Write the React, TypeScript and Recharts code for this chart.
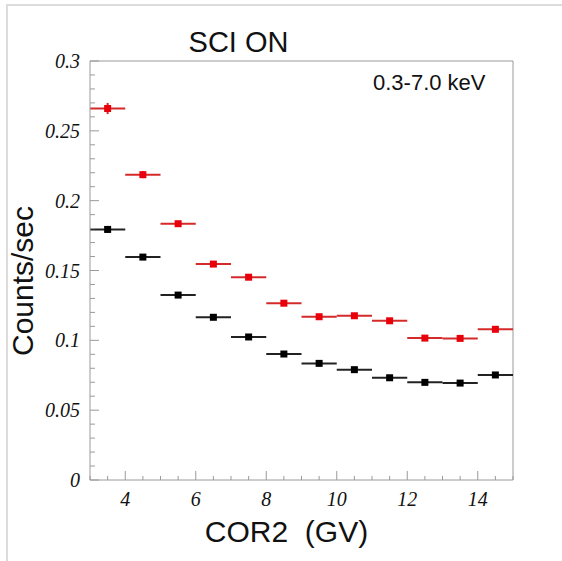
import React from 'react';
import { ComposedChart, Scatter, ErrorBar, XAxis, YAxis, ReferenceLine, Label } from 'recharts';

// COR2 bins (GV) and count rates
const binCenters = [3.5, 4.5, 5.5, 6.5, 7.5, 8.5, 9.5, 10.5, 11.5, 12.5, 13.5, 14.5];
const binHalfWidths = [0.5, 0.5, 0.5, 0.5, 0.5, 0.5, 0.5, 0.5, 0.5, 0.5, 0.5, 0.5];
const redRates = [0.266, 0.2186, 0.1835, 0.1546, 0.1452, 0.1266, 0.1169, 0.1176, 0.114, 0.1016, 0.1014, 0.1079];
const redErrors = [0.004, 0.0025, 0.002, 0.0018, 0.0017, 0.0016, 0.0016, 0.0016, 0.0016, 0.0016, 0.0017, 0.0018];
const blackRates = [0.1794, 0.1596, 0.1324, 0.1165, 0.1024, 0.0902, 0.0835, 0.079, 0.0732, 0.0699, 0.0694, 0.0752];
const blackErrors = [0.0025, 0.002, 0.0017, 0.0016, 0.0015, 0.0014, 0.0014, 0.0014, 0.0014, 0.0014, 0.0014, 0.0015];

const xTicks = [3, 3.5, 4, 4.5, 5, 5.5, 6, 6.5, 7, 7.5, 8, 8.5, 9, 9.5, 10, 10.5, 11, 11.5, 12, 12.5, 13, 13.5, 14, 14.5, 15];
const xLabels = [4, 6, 8, 10, 12, 14];
const yTicks = Array.from({ length: 31 }, (_, i) => i / 100);
const yLabels = [0, 0.05, 0.1, 0.15, 0.2, 0.25, 0.3];

const toRows = (rates: number[], errs: number[]) =>
  binCenters.map((x, i) => ({ x, y: rates[i], xerr: binHalfWidths[i], yerr: errs[i] }));

const redData = toRows(redRates, redErrors);
const blackData = toRows(blackRates, blackErrors);

const AXIS = '#9a9a9a';
const TICK_FONT = { fontFamily: '"Liberation Serif", serif', fontStyle: 'italic', fontSize: 20, fill: '#111' };
const SANS = '"Liberation Sans", Arial, sans-serif';

const YTick = (props: any) => {
  const { x, y, payload } = props;
  const v = payload.value;
  const major = yLabels.some((l) => Math.abs(l - v) < 1e-6);
  return (
    <g>
      <line x1={x} x2={x + (major ? 9 : 5)} y1={y} y2={y} stroke={AXIS} />
      {major && (
        <text x={x - 10} y={y} dy="0.35em" textAnchor="end" {...TICK_FONT}>
          {String(v)}
        </text>
      )}
    </g>
  );
};

const XTick = (props: any) => {
  const { x, y, payload } = props;
  const v = payload.value;
  const major = xLabels.includes(v);
  return (
    <g>
      <line x1={x} x2={x} y1={y} y2={y - (major ? 9 : 4)} stroke={AXIS} />
      {major && (
        <text x={x} y={y + 26} textAnchor="middle" {...TICK_FONT}>
          {String(v)}
        </text>
      )}
    </g>
  );
};

const square = (color: string, size: number) => (props: any) => (
  <rect x={props.cx - size / 2} y={props.cy - size / 2} width={size} height={size} fill={color} />
);

export default function App() {
  return (
    <div style={{ position: 'absolute', left: 0, top: 0, width: 562, height: 561, background: '#fff', overflow: 'hidden' }}>
      <div
        style={{
          position: 'absolute', left: 6, top: 4, width: 560, height: 560,
          borderTop: '2px solid #dcdcdc', borderLeft: '2px solid #dcdcdc',
        }}
      />
      <div style={{ position: 'absolute', left: 0, top: 0 }}>
        <ComposedChart width={562} height={561} margin={{ top: 61, right: 49, bottom: 0, left: 0 }}>
          <XAxis
            dataKey="x"
            type="number"
            domain={[3, 15]}
            ticks={xTicks}
            interval={0}
            height={81}
            tickSize={0}
            tickMargin={0}
            tickLine={false}
            tick={<XTick />}
            axisLine={{ stroke: AXIS }}
            allowDataOverflow
          >
            <Label
              content={(p: any) => {
                const vb = p.viewBox;
                return (
                  <text x={vb.x + vb.width / 2 - 15} y={vb.y + 62} textAnchor="middle"
                    style={{ fontFamily: SANS, fontSize: 30, fill: '#111', whiteSpace: 'pre' }}>
                    {'COR2  (GV)'}
                  </text>
                );
              }}
            />
          </XAxis>
          <YAxis
            dataKey="y"
            type="number"
            domain={[0, 0.3]}
            ticks={yTicks}
            interval={0}
            width={90}
            tickSize={0}
            tickMargin={0}
            tickLine={false}
            tick={<YTick />}
            axisLine={{ stroke: AXIS }}
            allowDataOverflow
          >
            <Label
              content={(p: any) => {
                const vb = p.viewBox;
                const cx = vb.x + 33;
                const cy = vb.y + vb.height / 2 + 10.5;
                return (
                  <text x={cx} y={cy} textAnchor="middle" transform={`rotate(-90, ${cx}, ${cy})`}
                    style={{ fontFamily: SANS, fontSize: 30, fill: '#111' }}>
                    Counts/sec
                  </text>
                );
              }}
            />
          </YAxis>
          <ReferenceLine y={0.3} stroke={AXIS} />
          <ReferenceLine x={15} stroke={AXIS} />
          <Scatter data={blackData} shape={square('#000', 7)} isAnimationActive={false}>
            <ErrorBar dataKey="xerr" direction="x" width={0} stroke="#222" strokeWidth={2} isAnimationActive={false} />
            <ErrorBar dataKey="yerr" direction="y" width={0} stroke="#222" strokeWidth={2} isAnimationActive={false} />
          </Scatter>
          <Scatter data={redData} shape={square('#e8000b', 7)} isAnimationActive={false}>
            <ErrorBar dataKey="xerr" direction="x" width={0} stroke="#d42a2a" strokeWidth={2} isAnimationActive={false} />
            <ErrorBar dataKey="yerr" direction="y" width={0} stroke="#d42a2a" strokeWidth={2} isAnimationActive={false} />
          </Scatter>
        </ComposedChart>
      </div>
      <div style={{ position: 'absolute', left: 238.5, top: 28, transform: 'translateX(-50%)', fontFamily: SANS, fontSize: 29, lineHeight: 1, color: '#111', whiteSpace: 'nowrap' }}>
        SCI ON
      </div>
      <div style={{ position: 'absolute', left: 373, top: 72, fontFamily: SANS, fontSize: 22, lineHeight: 1, color: '#111', whiteSpace: 'nowrap' }}>
        0.3-7.0 keV
      </div>
    </div>
  );
}
